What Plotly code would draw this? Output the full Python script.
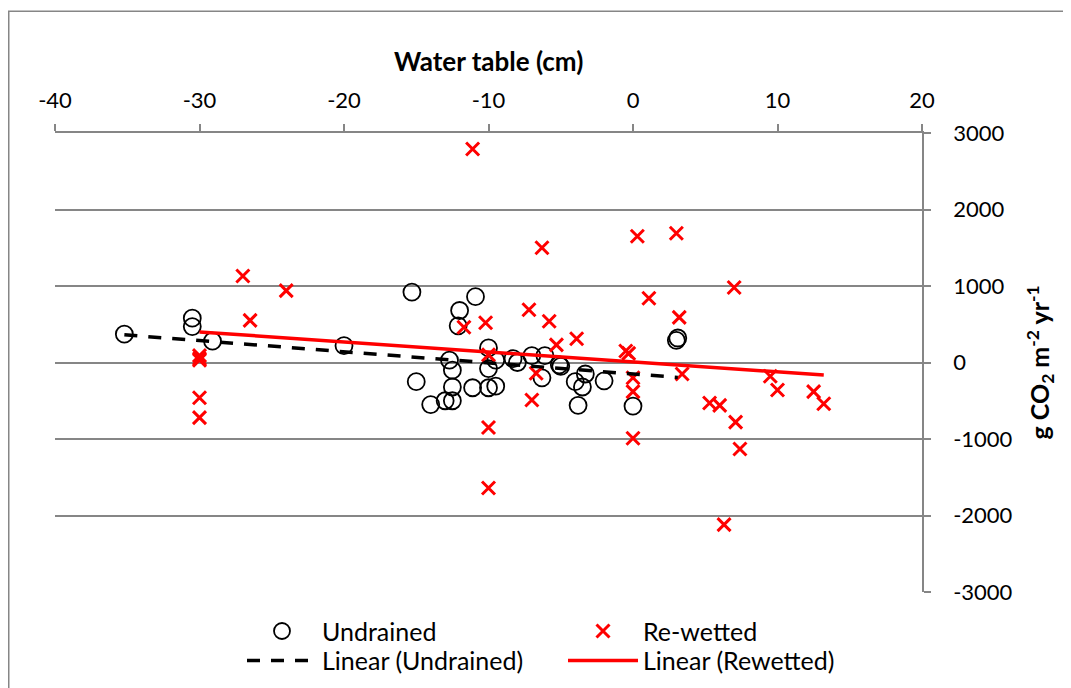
import plotly.graph_objects as go

# Undrained sites: water table (cm) and CO2 flux (g CO2 m-2 yr-1)
undrained_x = [-35.2, -30.5, -30.5, -29.1, -20.0, -15.3, -15.0, -14.0, -13.0, -12.7,
               -12.5, -12.5, -12.5, -12.1, -12.0, -11.1, -10.9, -10.0, -10.0, -10.0,
               -9.5, -9.5, -8.3, -8.0, -7.0, -6.1, -6.3, -5.1, -5.0, -4.0,
               -3.8, -3.5, -3.3, -2.0, 0.0, 3.0, 3.1]
undrained_y = [370, 580, 470, 280, 220, 920, -250, -550, -500, 30,
               -100, -320, -500, 480, 680, -330, 860, 190, -80, -330,
               -310, 30, 50, 0, 90, 90, -200, -30, -50, -250,
               -560, -320, -150, -240, -570, 290, 320]

# Re-wetted sites
rewetted_x = [-30.0, -30.0, -30.0, -30.0, -30.0, -27.0, -26.5, -24.0, -11.1, -11.7,
              -10.2, -10.0, -10.0, -10.0, -7.2, -7.0, -6.7, -6.3, -5.8, -5.3,
              -3.9, -0.5, -0.3, 0.0, 0.0, 0.0, 0.3, 1.1, 3.0, 3.2,
              3.4, 5.3, 6.0, 6.3, 7.0, 7.1, 7.4, 9.5, 10.0, 12.5, 13.2]
rewetted_y = [90, 50, 30, -460, -720, 1130, 550, 940, 2790, 460,
              520, 100, -850, -1640, 690, -490, -140, 1500, 540, 230,
              310, 150, 120, -200, -380, -990, 1650, 840, 1690, 590,
              -150, -530, -560, -2120, 980, -780, -1130, -180, -360, -380, -540]

# Linear trend lines as drawn (end points)
trend_undrained_x = [-35.2, 3.1]
trend_undrained_y = [362, -195]
trend_rewetted_x = [-30.0, 13.2]
trend_rewetted_y = [400, -165]

x_ticks = [-40, -30, -20, -10, 0, 10, 20]
y_ticks = [-3000, -2000, -1000, 0, 1000, 2000, 3000]

FONT = "Lato"
GRID = "#868686"

L, T, W, H = 47, 125, 867, 468
FIG_W, FIG_H = 1071, 688


def px_x(p):
    return (p - L) / W


def px_y(p):
    return (T + H - p) / H


fig = go.Figure()
fig.add_trace(go.Scatter(
    x=undrained_x, y=undrained_y, mode="markers", name="Undrained", legend="legend",
    marker=dict(symbol="circle-open", size=17, color="black", line=dict(width=1.8, color="black")),
))
fig.add_trace(go.Scatter(
    x=rewetted_x, y=rewetted_y, mode="markers", name="Re-wetted", legend="legend",
    marker=dict(symbol="x-thin-open", size=13, color="#FF0000", line=dict(width=3, color="#FF0000")),
))
fig.add_trace(go.Scatter(
    x=trend_undrained_x, y=trend_undrained_y, mode="lines", name="Linear (Undrained)", legend="legend2",
    line=dict(color="black", width=3.5, dash="13px,11px"),
))
fig.add_trace(go.Scatter(
    x=trend_rewetted_x, y=trend_rewetted_y, mode="lines", name="Linear (Rewetted)", legend="legend2",
    line=dict(color="#FF0000", width=3.5),
))

leg_common = dict(
    orientation="h", xanchor="left", yanchor="middle",
    itemwidth=70, entrywidth=236, entrywidthmode="pixels",
    font=dict(family=FONT, size=25, color="black"),
    bgcolor="rgba(0,0,0,0)",
)

fig.update_layout(
    width=FIG_W, height=FIG_H,
    margin=dict(l=L, r=FIG_W - L - W, t=T, b=FIG_H - T - H),
    paper_bgcolor="white", plot_bgcolor="white",
    font=dict(family=FONT, size=22, color="black"),
    showlegend=True,
    legend=dict(leg_common, x=px_x(234), y=px_y(633)),
    legend2=dict(leg_common, x=px_x(234), y=px_y(663)),
    xaxis=dict(
        side="top", range=[-40, 20], tickvals=x_ticks, ticktext=[str(v) for v in x_ticks],
        showgrid=False, zeroline=False, showline=True, linecolor=GRID, linewidth=1.5,
        ticks="outside", ticklen=7, tickcolor=GRID, tickwidth=1.5,
        ticklabelstandoff=7, tickfont=dict(family=FONT, size=22, color="black"),
    ),
    yaxis=dict(
        side="right", range=[-3000, 3000], tickvals=y_ticks, ticktext=[str(v) for v in y_ticks],
        showgrid=True, gridcolor=GRID, gridwidth=1.5, zeroline=False,
        showline=True, linecolor=GRID, linewidth=1.5,
        ticks="outside", ticklen=7, tickcolor=GRID, tickwidth=1.5,
        ticklabelstandoff=18, tickfont=dict(family=FONT, size=22, color="black"),
    ),
    annotations=[
        dict(text="<b>Water table (cm)</b>", x=0.5, y=px_y(52), xref="paper", yref="paper",
             showarrow=False, font=dict(family=FONT, size=26, color="black"),
             xanchor="center", yanchor="middle"),
        dict(text="<b>g CO<sub>2</sub> m<sup>-2</sup> yr<sup>-1</sup></b>", x=px_x(1032), y=0.5,
             xref="paper", yref="paper", textangle=-90, showarrow=False,
             font=dict(family=FONT, size=25, color="black"), xanchor="center", yanchor="middle"),
    ],
    shapes=[
        dict(type="rect", xref="paper", yref="paper",
             x0=px_x(0.75), x1=px_x(FIG_W + 20), y0=px_y(FIG_H + 20), y1=px_y(0.75),
             line=dict(color=GRID, width=1.5), fillcolor="rgba(0,0,0,0)", layer="below"),
    ],
)

fig.write_html("out.html")
